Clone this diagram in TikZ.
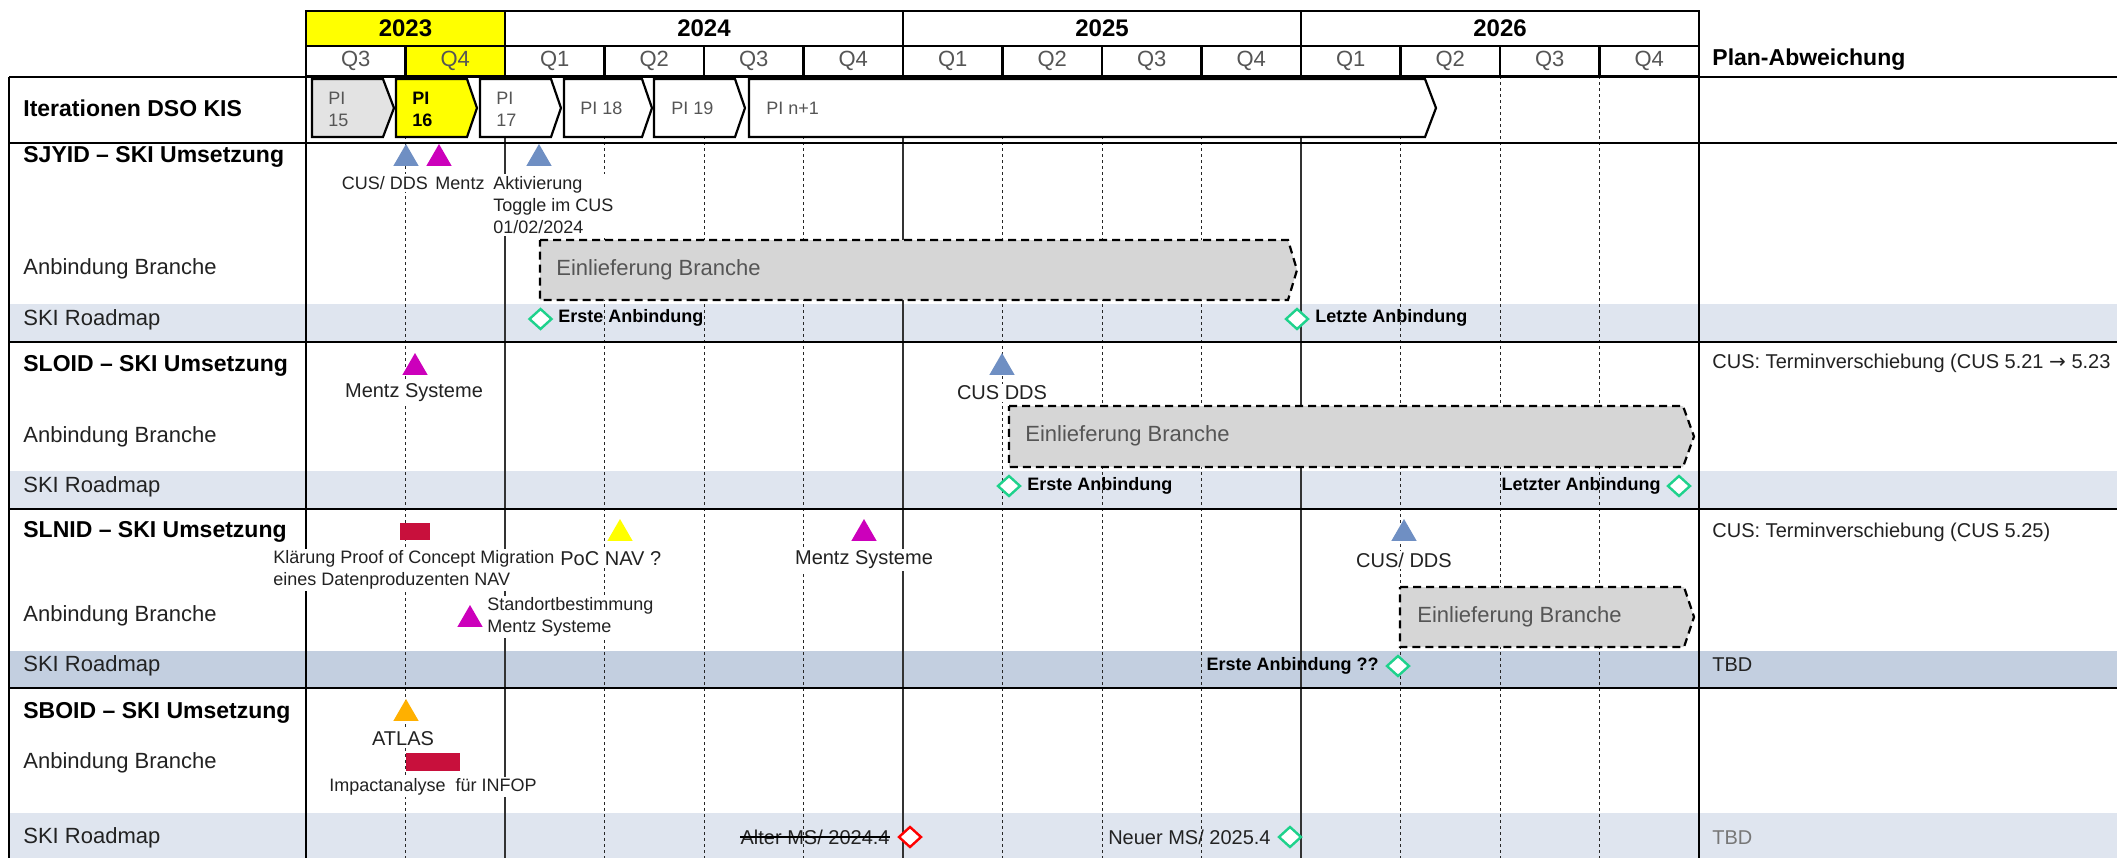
\documentclass[tikz,border=0pt]{standalone}
\usepackage{fontspec}
\setmainfont{Liberation Sans}
\newfontfamily\arrowfont{DejaVu Sans}
\usetikzlibrary{shapes.geometric}
\definecolor{hlyellow}{HTML}{FFFF00}
\definecolor{bandlt}{HTML}{DFE5EF}
\definecolor{banddk}{HTML}{C3CFE0}
\definecolor{pigray}{HTML}{E3E3E3}
\definecolor{boxgray}{HTML}{D6D6D6}
\definecolor{msblue}{HTML}{6F8FC3}
\definecolor{msmag}{HTML}{CC00BB}
\definecolor{msorange}{HTML}{FFB000}
\definecolor{mscrim}{HTML}{C8103C}
\definecolor{msgreen}{HTML}{1ED28C}
\definecolor{txtdark}{HTML}{222222}
\definecolor{txtmid}{HTML}{555555}
\definecolor{txtsoft}{HTML}{777777}
\begin{document}
\begin{tikzpicture}[x=0.5pt, y=-0.5pt,
  yrbox/.style={draw, line width=1.1pt, inner sep=0pt, minimum height=17.5pt, font=\bfseries\fontsize{12}{14}\selectfont},
  qbox/.style={draw, line width=1.1pt, inner sep=0pt, minimum width=49.75pt, minimum height=15pt, text=txtmid, font=\fontsize{11}{13}\selectfont},
  rowlab/.style={anchor=west, inner sep=0pt, text=txtdark, font=\fontsize{11}{13}\selectfont},
  seclab/.style={rowlab, text=black, font=\bfseries\fontsize{11.5}{14}\selectfont},
  qline/.style={line width=0.45pt, draw=black!85, dash pattern=on 1.6pt off 1.4pt},
  yline/.style={line width=0.7pt, draw=black!80},
  sline/.style={line width=1pt},
  bline/.style={line width=1.2pt},
  chev/.style={draw, line width=1.1pt},
  pitxt/.style={anchor=west, inner sep=0pt, align=left, text=txtmid, font=\fontsize{9}{11}\selectfont},
  ebox/.style={draw, fill=boxgray, line width=1.1pt, dash pattern=on 4pt off 2.5pt},
  etxt/.style={anchor=west, inner sep=0pt, text=txtmid, font=\fontsize{11}{13}\selectfont},
  ms/.style={regular polygon, regular polygon sides=3, inner sep=0pt, minimum size=14.5pt},
  bar/.style={rectangle, fill=mscrim, inner sep=0pt, minimum width=15pt, minimum height=8.5pt},
  msl/.style={fill=white, inner sep=1pt, align=left, text=txtdark, font=\fontsize{9}{11}\selectfont},
  mslb/.style={msl, font=\fontsize{10}{12}\selectfont},
  dia/.style={diamond, draw=msgreen, fill=white, line width=1.2pt, inner sep=0pt, minimum width=11.5pt, minimum height=10.5pt},
  rmtxt/.style={inner sep=0pt, text=black, font=\bfseries\fontsize{9}{11}\selectfont},
  rmreg/.style={inner sep=0pt, text=txtdark, font=\fontsize{10}{12}\selectfont},
  pltxt/.style={anchor=west, inner sep=0pt, text=txtdark, font=\fontsize{10}{12}\selectfont}]
\useasboundingbox (0,0) rectangle (2117,858);
\fill[white] (0,0) rectangle (2117,858);
% roadmap bands
\fill[bandlt] (9,304) rectangle (2117,342);
\fill[bandlt] (9,471) rectangle (2117,509);
\fill[banddk] (9,651) rectangle (2117,688);
\fill[bandlt] (9,813) rectangle (2117,858);
% years and quarters
\node[yrbox, fill=hlyellow, minimum width=99.5pt] (yr0) at (405.5,28.5) {2023};
\node[yrbox, minimum width=199pt] (yr1) at (704,28.5) {2024};
\node[yrbox, minimum width=199pt] (yr2) at (1102,28.5) {2025};
\node[yrbox, minimum width=199pt] (yr3) at (1500,28.5) {2026};
\node[qbox] (qt0) at (355.75,61) {Q3};
\node[qbox, fill=hlyellow] (qt1) at (455.25,61) {Q4};
\node[qbox] (qt2) at (554.75,61) {Q1};
\node[qbox] (qt3) at (654.25,61) {Q2};
\node[qbox] (qt4) at (753.75,61) {Q3};
\node[qbox] (qt5) at (853.25,61) {Q4};
\node[qbox] (qt6) at (952.75,61) {Q1};
\node[qbox] (qt7) at (1052.25,61) {Q2};
\node[qbox] (qt8) at (1151.75,61) {Q3};
\node[qbox] (qt9) at (1251.25,61) {Q4};
\node[qbox] (qt10) at (1350.75,61) {Q1};
\node[qbox] (qt11) at (1450.25,61) {Q2};
\node[qbox] (qt12) at (1549.75,61) {Q3};
\node[qbox] (qt13) at (1649.25,61) {Q4};
% grid
\draw[qline] (405.5,76) -- (405.5,858);
\draw[qline] (604.5,76) -- (604.5,858);
\draw[qline] (704,76) -- (704,858);
\draw[qline] (803.5,76) -- (803.5,858);
\draw[qline] (1002.5,76) -- (1002.5,858);
\draw[qline] (1102,76) -- (1102,858);
\draw[qline] (1201.5,76) -- (1201.5,858);
\draw[qline] (1400.5,76) -- (1400.5,858);
\draw[qline] (1500,76) -- (1500,858);
\draw[qline] (1599.5,76) -- (1599.5,858);
\draw[yline] (505,76) -- (505,858);
\draw[yline] (903,76) -- (903,858);
\draw[yline] (1301,76) -- (1301,858);
\draw[sline] (9,76.5) -- (2117,76.5);
\draw[sline] (9,142.5) -- (2117,142.5);
\draw[sline] (9,342) -- (2117,342);
\draw[sline] (9,509) -- (2117,509);
\draw[sline] (9,688) -- (2117,688);
\draw[bline] (9,76.5) -- (9,858);
\draw[bline] (306,11) -- (306,858);
\draw[bline] (1699,11) -- (1699,858);
% row labels
\node[seclab] (lb0) at (23,108) {Iterationen DSO KIS};
\node[seclab] (lb1) at (23,157) {SJYID – SKI Umsetzung};
\node[rowlab] (lb2) at (23,269) {Anbindung Branche};
\node[rowlab] (lb3) at (23,320) {SKI Roadmap};
\node[seclab] (lb4) at (23,366) {SLOID – SKI Umsetzung};
\node[rowlab] (lb5) at (23,437) {Anbindung Branche};
\node[rowlab] (lb6) at (23,487) {SKI Roadmap};
\node[seclab] (lb7) at (23,532) {SLNID – SKI Umsetzung};
\node[rowlab] (lb8) at (23,616) {Anbindung Branche};
\node[rowlab] (lb9) at (23,666) {SKI Roadmap};
\node[seclab] (lb10) at (23,713) {SBOID – SKI Umsetzung};
\node[rowlab] (lb11) at (23,763) {Anbindung Branche};
\node[rowlab] (lb12) at (23,838) {SKI Roadmap};
\node[seclab] (pa0) at (1712,60) {Plan-Abweichung};
% iterations
\draw[chev, fill=pigray] (312,79) -- (383,79) -- (394,108) -- (383,137) -- (312,137) -- cycle;
\node[pitxt] (pi0) at (328,109) {PI\\15};
\draw[chev, fill=hlyellow] (396,79) -- (467,79) -- (477,108) -- (467,137) -- (396,137) -- cycle;
\node[pitxt, text=black, font=\bfseries\fontsize{9}{11}\selectfont] (pi1) at (412,109) {PI\\16};
\draw[chev, fill=white] (480,79) -- (551,79) -- (561,108) -- (551,137) -- (480,137) -- cycle;
\node[pitxt] (pi2) at (496,109) {PI\\17};
\draw[chev, fill=white] (564,79) -- (642,79) -- (652,108) -- (642,137) -- (564,137) -- cycle;
\node[pitxt] (pi3) at (580,108) {PI 18};
\draw[chev, fill=white] (654,79) -- (735,79) -- (745,108) -- (735,137) -- (654,137) -- cycle;
\node[pitxt] (pi4) at (671,108) {PI 19};
\draw[chev, fill=white] (749,79) -- (1425,79) -- (1436,108) -- (1425,137) -- (749,137) -- cycle;
\node[pitxt] (pi5) at (766,108) {PI n+1};
% Einlieferung
\draw[ebox] (540,240) -- (1288,240) -- (1297,270) -- (1288,300) -- (540,300) -- cycle;
\node[etxt] (eb0) at (556,270) {Einlieferung Branche};
\draw[ebox] (1009,406) -- (1683,406) -- (1694,436.5) -- (1683,467) -- (1009,467) -- cycle;
\node[etxt] (eb1) at (1025,436) {Einlieferung Branche};
\draw[ebox] (1400,587) -- (1684,587) -- (1694,617) -- (1684,647) -- (1400,647) -- cycle;
\node[etxt] (eb2) at (1417,617) {Einlieferung Branche};
% SJYID
\node[ms, fill=msblue] (ms0) at (406,158.5) {};
\node[ms, fill=msmag] (ms1) at (439,158.5) {};
\node[ms, fill=msblue] (ms2) at (539,158.5) {};
\node[msl] (ml0) at (385,183) {CUS/ DDS};
\node[msl] (ml1) at (460,183) {Mentz};
\node[msl, anchor=west] (ml2) at (491,205) {Aktivierung\\Toggle im CUS\\01/02/2024};
\node[dia] (dm0) at (540.5,319) {};
\node[rmtxt, anchor=west] (dl0) at (558,318) {Erste Anbindung};
\node[dia] (dm1) at (1297,319) {};
\node[rmtxt, anchor=west] (dl1) at (1315,318) {Letzte Anbindung};
% SLOID
\node[ms, fill=msmag] (ms3) at (415,367.5) {};
\node[mslb] (ml3) at (414,393) {Mentz Systeme};
\node[ms, fill=msblue] (ms4) at (1002,367.5) {};
\node[mslb] (ml4) at (1002,393) {CUS DDS};
\node[dia] (dm2) at (1009,486) {};
\node[rmtxt, anchor=west] (dl2) at (1027,486) {Erste Anbindung};
\node[dia] (dm3) at (1679,486) {};
\node[rmtxt, anchor=east] (dl3) at (1661,486) {Letzter Anbindung};
\node[pltxt] (pa1) at (1712,363) {CUS: Terminverschiebung (CUS 5.21 {\arrowfont →} 5.23};
% SLNID
\node[bar] (ms5) at (415,531.5) {};
\node[msl, anchor=west] (ml5) at (271,570) {Klärung Proof of Concept Migration\\eines Datenproduzenten NAV};
\node[ms, fill=hlyellow] (ms6) at (620,533.5) {};
\node[mslb, anchor=west] (ml6) at (558,559) {PoC NAV ?};
\node[ms, fill=msmag] (ms7) at (864,533.5) {};
\node[mslb] (ml7) at (864,560) {Mentz Systeme};
\node[ms, fill=msblue] (ms8) at (1404,533.5) {};
\node[mslb] (ml8) at (1404,560) {CUS/ DDS};
\node[ms, fill=msmag] (ms9) at (470,619.5) {};
\node[msl, anchor=west] (ml9) at (485,617) {Standortbestimmung\\Mentz Systeme};
\node[dia] (dm4) at (1398,666) {};
\node[rmtxt, anchor=east] (dl4) at (1379,666) {Erste Anbindung ??};
\node[pltxt] (pa2) at (1712,532) {CUS: Terminverschiebung (CUS 5.25)};
\node[pltxt] (pa3) at (1712,665) {TBD};
% SBOID
\node[ms, fill=msorange] (ms10) at (406,713.5) {};
\node[mslb] (ml10) at (403,739) {ATLAS};
\node[bar, minimum width=27pt, minimum height=9pt] (ms11) at (433,762) {};
\node[msl] (ml11) at (433,787) {Impactanalyse\ \ für INFOP};
\node[dia, draw=red] (dm5) at (910,837) {};
\node[rmreg, anchor=east] (dl5) at (890,837) {Alter MS/ 2024.4};
\draw[line width=0.6pt, yshift=-1pt] (dl5.west) -- (dl5.east);
\node[dia] (dm6) at (1290,837) {};
\node[rmreg, anchor=east] (dl6) at (1271,837) {Neuer MS/ 2025.4};
\node[pltxt, text=txtsoft] (pa4) at (1712,838) {TBD};
\end{tikzpicture}
\end{document}
